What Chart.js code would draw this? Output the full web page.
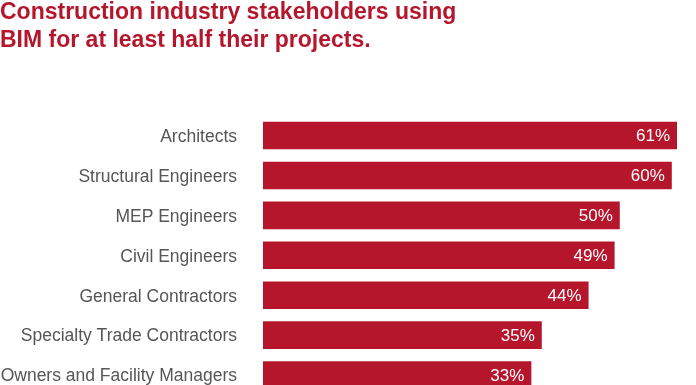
<!DOCTYPE html>
<html>
<head>
<meta charset="utf-8">
<script src="https://cdn.jsdelivr.net/npm/chart.js@4/dist/chart.umd.min.js"></script>
<style>
  html, body {
    margin: 0;
    padding: 0;
    background: #fff;
    overflow: hidden;
  }
  #chart {
    position: absolute;
    left: 0;
    top: -1px;
  }
</style>
</head>
<body>
<canvas id="chart" width="696" height="396"></canvas>
<script>
'use strict';
const titleLines = ['Construction industry stakeholders using', 'BIM for at least half their projects.'];
const categories = [
  'Architects',
  'Structural Engineers',
  'MEP Engineers',
  'Civil Engineers',
  'General Contractors',
  'Specialty Trade Contractors',
  'Owners and Facility Managers'
];
const shares = [61, 60, 50, 49, 44, 35, 33];

const red = '#b5162b';
const fontFamily = '"Liberation Sans", Arial, Helvetica, sans-serif';

// value labels, white, right aligned inside each bar end
const barLabels = {
  id: 'barLabels',
  afterDatasetsDraw(chart) {
    const ctx = chart.ctx;
    const meta = chart.getDatasetMeta(0);
    ctx.save();
    ctx.fillStyle = '#ffffff';
    ctx.font = '17px ' + fontFamily;
    ctx.textAlign = 'right';
    ctx.textBaseline = 'middle';
    meta.data.forEach((bar, i) => {
      ctx.fillText(shares[i] + '%', bar.x - 7, bar.y + 1);
    });
    ctx.restore();
  }
};

Chart.defaults.font.family = fontFamily;

new Chart(document.getElementById('chart').getContext('2d'), {
  type: 'bar',
  data: {
    labels: categories,
    datasets: [{
      data: shares,
      base: -18.6,
      backgroundColor: red,
      borderWidth: 0,
      barPercentage: 0.69,
      categoryPercentage: 1
    }]
  },
  options: {
    indexAxis: 'y',
    responsive: false,
    animation: false,
    devicePixelRatio: 1,
    layout: {
      padding: { left: 0, right: 6, top: 0, bottom: 0 }
    },
    plugins: {
      legend: { display: false },
      tooltip: { enabled: false },
      title: {
        display: true,
        text: titleLines,
        align: 'start',
        color: red,
        font: { size: 23, weight: 'bold', lineHeight: '28px' },
        padding: { top: 0, bottom: 60.6 }
      }
    },
    scales: {
      x: {
        display: false,
        min: -18.6,
        max: 63.5
      },
      y: {
        grid: { display: false, drawTicks: false },
        border: { display: false },
        ticks: {
          color: '#565656',
          padding: 26,
          labelOffset: 1.5,
          font: { size: 17.5 }
        },
        afterFit(axis) {
          axis.width = 263;
          axis.paddingTop = 0;
          axis.paddingBottom = 0;
        }
      }
    }
  },
  plugins: [barLabels]
});
</script>
</body>
</html>
